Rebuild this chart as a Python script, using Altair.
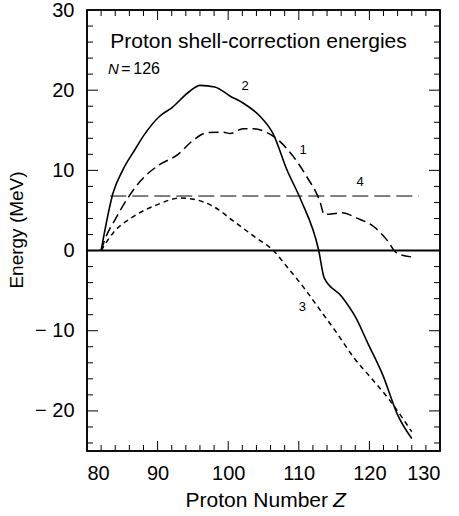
import altair as alt
import pandas as pd

# Curve 1 (long dashed)
z1 = [82, 82.5, 84, 85.6, 87.5, 89.9, 92.9, 95.1, 97, 99.3, 100.3, 102.1, 103.6, 105.5, 106.4, 109.2, 111.1, 113, 113.6, 116.1, 118.2, 120.6, 122.5, 123.9, 126]
e1 = [0, 1.3, 3.9, 6.3, 8.6, 10.5, 12.0, 13.8, 14.7, 14.75, 14.6, 15.2, 15.2, 14.7, 14.25, 11.75, 9.25, 6.1, 4.5, 4.7, 4.05, 3.0, 1.3, -0.33, -0.8]
# Curve 2 (solid)
z2 = [82, 83.7, 85.1, 86.8, 88, 90.3, 92, 94.6, 96, 98.1, 100.3, 102.1, 104.5, 106.4, 108.3, 110.3, 112.8, 113.6, 116.1, 118, 119.8, 122, 123.9, 126]
e2 = [0, 7.2, 10.1, 12.6, 14.3, 16.75, 17.8, 19.9, 20.6, 20.4, 19.25, 18.4, 16.75, 14.5, 10.1, 6.3, 0.1, -3.4, -5.75, -8.25, -11.6, -15.75, -20.3, -23.45]
# Curve 3 (short dashed)
z3 = [82, 83.7, 86.6, 89.9, 93.2, 95.1, 97.9, 100.7, 104, 106.4, 108.3, 110.6, 113, 115.4, 117.7, 120.1, 122.9, 126]
e3 = [0, 2.2, 4.25, 5.7, 6.55, 6.4, 5.5, 3.7, 1.55, 0, -2.0, -4.5, -7.4, -10.3, -13.25, -15.75, -18.7, -22.6]
# Curve 4 (flat, long dashed)
z4 = [83.3, 127]
e4 = [6.8, 6.8]

curve_labels = ["1", "2", "3", "4"]
label_z = [110.6, 102.4, 110.5, 118.7]
label_e = [12.6, 20.5, -7.0, 8.6]

x_domain = [80, 130]
y_domain = [-25, 30]
x_ticks = [80, 90, 100, 110, 120, 130]
y_ticks = [-20, -10, 0, 10, 20, 30]
x_major = [90, 100, 110, 120]
x_minor = [v for v in range(82, 130, 2) if v % 10 != 0]
y_major = [-20, -10, 0, 10, 20]
y_minor = [v for v in range(-24, 30, 2) if v % 10 != 0]

title_text = "Proton shell-correction energies"

W, H = 353, 441
FONT = "Liberation Sans"

rows = []
for name, zs, es in [("1", z1, e1), ("2", z2, e2), ("3", z3, e3), ("4", z4, e4)]:
    for i, (z, e) in enumerate(zip(zs, es)):
        rows.append({"curve": name, "Z": z, "E": e, "i": i})
df = pd.DataFrame(rows)

xs = alt.Scale(domain=x_domain, nice=False, zero=False)
ys = alt.Scale(domain=y_domain, nice=False, zero=False)
xaxis = alt.Axis(values=x_ticks, ticks=False, domain=False, grid=False, labelFontSize=20,
                 labelFont=FONT, labelColor="black", labelPadding=12, title=None)
yaxis = alt.Axis(values=y_ticks, ticks=False, domain=False, grid=False, labelFontSize=20,
                 labelFont=FONT, labelColor="black", labelPadding=13, title=None,
                 labelExpr="datum.value < 0 ? '\u2212 ' + abs(datum.value) : datum.label")

X = lambda f: alt.X(f, scale=xs, axis=xaxis)
Y = lambda f: alt.Y(f, scale=ys, axis=yaxis)


def curve(name, sw, dash=None, interp="monotone"):
    kw = dict(color="black", strokeWidth=sw, interpolate=interp)
    if dash:
        kw["strokeDash"] = dash
    return alt.Chart(df[df.curve == name]).mark_line(**kw).encode(
        x=X("Z:Q"), y=Y("E:Q"), order="i:Q")


frame_df = pd.DataFrame({"z0": [x_domain[0]], "z1": [x_domain[1]], "e0": [y_domain[0]], "e1": [y_domain[1]]})
frame = alt.Chart(frame_df).mark_rect(fill="white", fillOpacity=0, stroke="black", strokeWidth=1.6).encode(
    x=X("z0:Q"), x2="z1:Q", y=Y("e0:Q"), y2="e1:Q")

zero = alt.Chart(pd.DataFrame({"E": [0]})).mark_rule(color="black", strokeWidth=2).encode(y=Y("E:Q"))

layers = [frame, zero,
          curve("4", 1, [16, 6], "linear"),
          curve("3", 1.5, [5, 4]),
          curve("1", 1.5, [10, 5]),
          curve("2", 1.6)]

# inward ticks on all four sides
for vals, ln in [(x_major, 10), (x_minor, 6)]:
    d = pd.DataFrame({"v": vals})
    layers.append(alt.Chart(d).mark_rule(color="black", strokeWidth=1).encode(
        x=X("v:Q"), y=alt.value(H), y2=alt.value(H - ln)))
    layers.append(alt.Chart(d).mark_rule(color="black", strokeWidth=1).encode(
        x=X("v:Q"), y=alt.value(0), y2=alt.value(ln)))
for vals, ln in [(y_major, 11), (y_minor, 6)]:
    d = pd.DataFrame({"v": vals})
    layers.append(alt.Chart(d).mark_rule(color="black", strokeWidth=1).encode(
        y=Y("v:Q"), x=alt.value(0), x2=alt.value(ln)))
    layers.append(alt.Chart(d).mark_rule(color="black", strokeWidth=1).encode(
        y=Y("v:Q"), x=alt.value(W), x2=alt.value(W - ln)))

# curve labels
lab = pd.DataFrame({"t": curve_labels, "Z": label_z, "E": label_e})
layers.append(alt.Chart(lab).mark_text(font=FONT, fontSize=13, color="black", align="center",
                                       baseline="middle").encode(x=X("Z:Q"), y=Y("E:Q"), text="t:N"))

# in-plot title
tt = pd.DataFrame({"t": [title_text], "Z": [83.3], "E": [25.3]})
layers.append(alt.Chart(tt).mark_text(font=FONT, fontSize=21, color="black", align="left",
                                      baseline="alphabetic").encode(x=X("Z:Q"), y=Y("E:Q"), text="t:N"))
nn = pd.DataFrame({"t": ["N", "=", "126"], "Z": [82.97, 84.85, 86.55], "E": [22.0, 22.0, 22.0],
                   "st": ["italic", "normal", "normal"]})
layers.append(alt.Chart(nn[nn.st == "italic"]).mark_text(font=FONT, fontSize=15, fontStyle="italic", color="black",
                                      align="left", baseline="alphabetic").encode(x=X("Z:Q"), y=Y("E:Q"), text="t:N"))
layers.append(alt.Chart(nn[nn.st == "normal"]).mark_text(font=FONT, fontSize=16, color="black",
                                      align="left", baseline="alphabetic").encode(x=X("Z:Q"), y=Y("E:Q"), text="t:N"))

# axis titles
one = pd.DataFrame({"a": [0]})
layers.append(alt.Chart(one).mark_text(text="Proton Number", font=FONT, fontSize=21, color="black",
                                       align="right", baseline="alphabetic").encode(x=alt.value(241), y=alt.value(497)))
layers.append(alt.Chart(one).mark_text(text="Z", font=FONT, fontSize=21, fontStyle="italic", color="black",
                                       align="left", baseline="alphabetic").encode(x=alt.value(246), y=alt.value(497)))
layers.append(alt.Chart(one).mark_text(text="Energy (MeV)", font=FONT, fontSize=19, color="black",
                                       align="center", baseline="middle", angle=270).encode(x=alt.value(-70), y=alt.value(220)))

chart = alt.layer(*layers).properties(
    width=W, height=H,
    autosize=alt.AutoSizeParams(type="none"),
    padding={"left": 87, "top": 10, "right": 19, "bottom": 65},
).configure(background="white", view=alt.ViewConfig(stroke="black", strokeWidth=1.5))

chart.save("out.html", embed_options={"renderer": "svg", "actions": False})
